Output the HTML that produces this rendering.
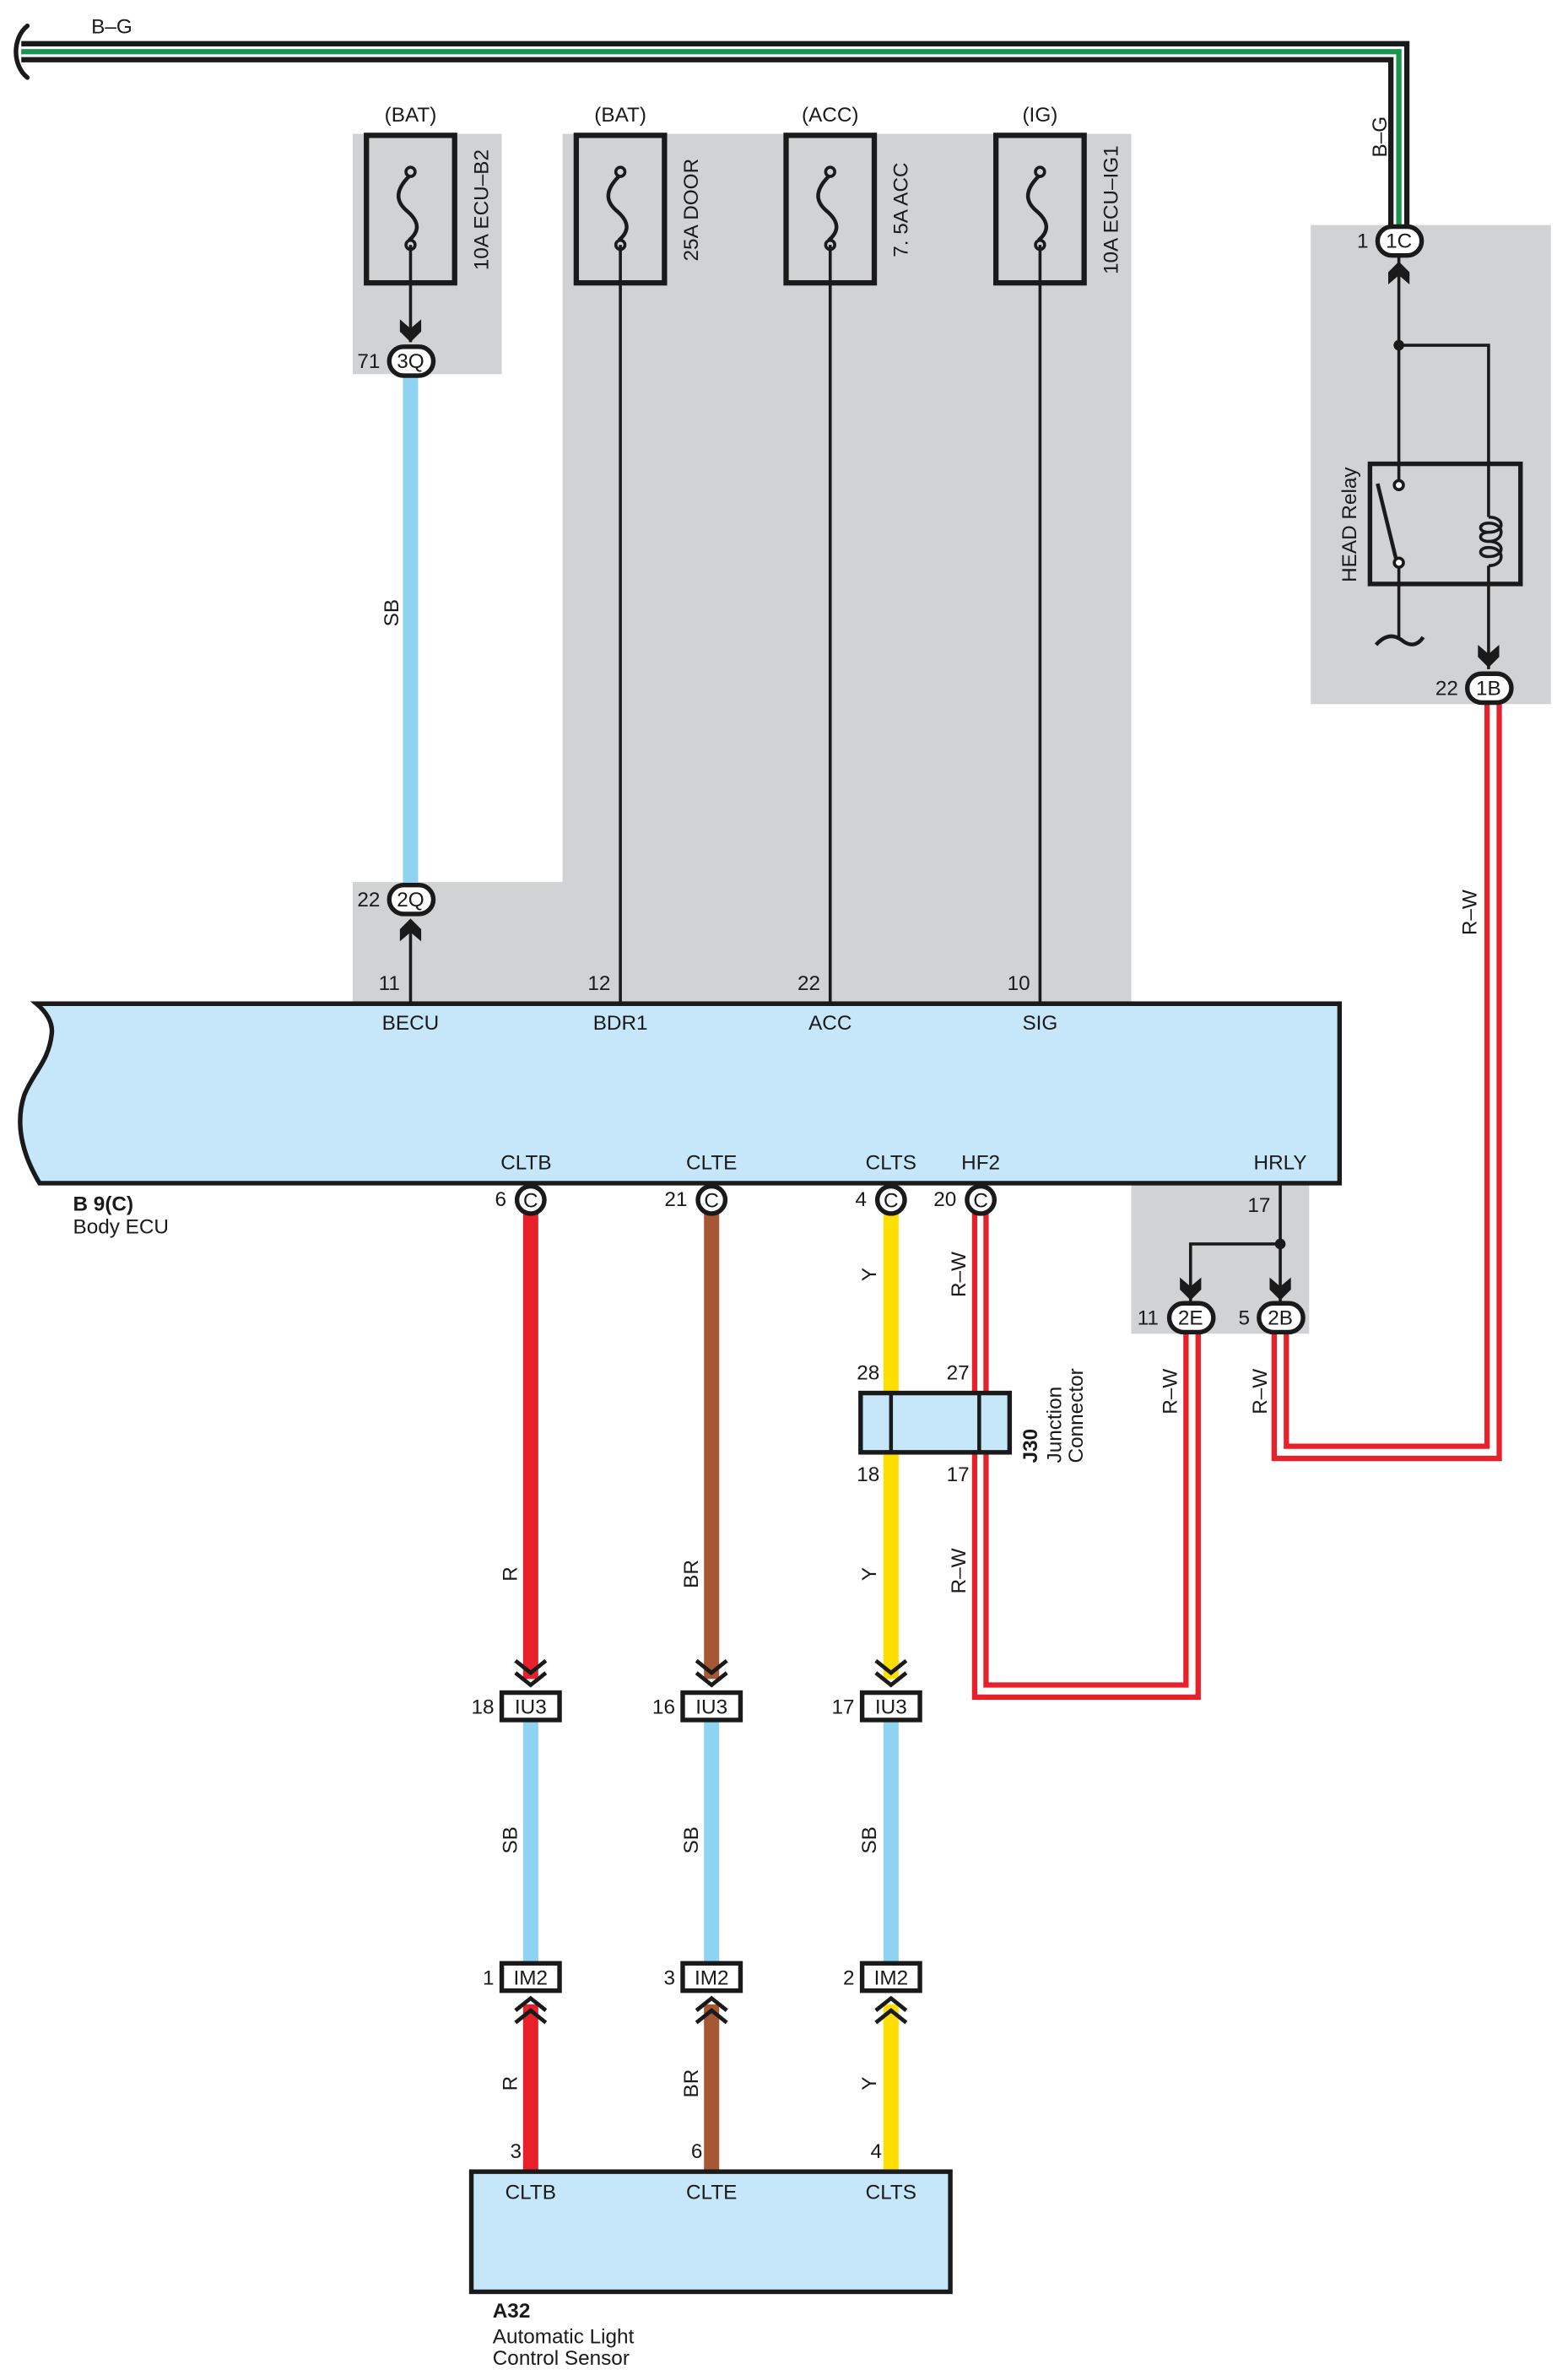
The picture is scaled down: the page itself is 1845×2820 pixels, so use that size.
<!DOCTYPE html>
<html><head><meta charset="utf-8"><style>
html,body{margin:0;padding:0;background:#fff;}
svg{display:block;}
text{font-family:"Liberation Sans",sans-serif;font-size:13.5px;fill:#1a1a1a;}
</style></head><body>
<svg width="1845" height="2820" viewBox="0 0 1024 1565" preserveAspectRatio="none" xmlns="http://www.w3.org/2000/svg">
<defs>
<path id="ard" d="M-7,-10 L0,-4 L7,-10 L7,-2 L0,5 L-7,-2 Z" fill="#1a1a1a"/>
<path id="aru" d="M-7,10 L0,4 L7,10 L7,2 L0,-5 L-7,2 Z" fill="#1a1a1a"/>
<g id="dchd" fill="none" stroke="#1a1a1a" stroke-width="2.6"><polyline points="-10,-12 0,-4 10,-12"/><polyline points="-10,-4 0,4 10,-4"/></g>
<g id="dchu" fill="none" stroke="#1a1a1a" stroke-width="2.6"><polyline points="-10,12 0,4 10,12"/><polyline points="-10,4 0,-4 10,4"/></g>
<g id="fuse" fill="none" stroke="#1a1a1a"><rect x="-29" y="0" width="58" height="97" stroke-width="3.5" fill="none"/><circle cx="0" cy="24" r="3" stroke-width="2"/><circle cx="0" cy="72" r="3" stroke-width="2"/><path d="M-1,27 C-12,38 -8,45 -2,50 C6,57 6,63 -1,69" stroke-width="2.5"/></g>
</defs>

<rect x="232" y="88" width="98" height="158" fill="#d1d2d4"/>
<polygon points="370,88 744,88 744,660 232,660 232,580 370,580" fill="#d1d2d4"/>
<rect x="862" y="148" width="158" height="315" fill="#d1d2d4"/>
<rect x="744" y="778" width="117" height="99" fill="#d1d2d4"/>

<path d="M14,34 L920,34 L920,150" fill="none" stroke="#1a1a1a" stroke-width="14"/>
<path d="M14,34 L920,34 L920,150" fill="none" stroke="#fff" stroke-width="7"/>
<path d="M14,34 L920,34 L920,150" fill="none" stroke="#1a9550" stroke-width="3.5"/>
<path d="M18,17 C8,25 8,43 18,51" fill="none" stroke="#1a1a1a" stroke-width="3" stroke-linecap="round"/>
<text x="60" y="22">B–G</text>
<text transform="translate(912,90) rotate(-90)" text-anchor="middle">B–G</text>

<use href="#fuse" x="270" y="89"/><use href="#fuse" x="408" y="89"/><use href="#fuse" x="546" y="89"/><use href="#fuse" x="684" y="89"/>
<text x="270" y="80" text-anchor="middle">(BAT)</text>
<text x="408" y="80" text-anchor="middle">(BAT)</text>
<text x="546" y="80" text-anchor="middle">(ACC)</text>
<text x="684" y="80" text-anchor="middle">(IG)</text>
<text transform="translate(321,138) rotate(-90)" text-anchor="middle">10A ECU–B2</text>
<text transform="translate(459,138) rotate(-90)" text-anchor="middle">25A DOOR</text>
<text transform="translate(597,138) rotate(-90)" text-anchor="middle">7. 5A ACC</text>
<text transform="translate(735,138) rotate(-90)" text-anchor="middle">10A ECU–IG1</text>
<g stroke="#1a1a1a" stroke-width="2">
<line x1="270" y1="161" x2="270" y2="225"/>
<line x1="408" y1="161" x2="408" y2="660"/>
<line x1="546" y1="161" x2="546" y2="660"/>
<line x1="684" y1="161" x2="684" y2="660"/>
<line x1="270" y1="605" x2="270" y2="660"/>
</g>
<line x1="270" y1="246" x2="270" y2="582" stroke="#8fd3f3" stroke-width="10"/>
<text transform="translate(262,403) rotate(-90)" text-anchor="middle">SB</text>
<use href="#ard" x="270" y="220"/>
<use href="#aru" x="270" y="609"/>
<rect x="256" y="228" width="29" height="19" rx="9.5" fill="#fff" stroke="#1a1a1a" stroke-width="3"/>
<text x="270" y="242" text-anchor="middle">3Q</text><text x="250" y="242" text-anchor="end">71</text>
<rect x="256" y="582" width="29" height="19" rx="9.5" fill="#fff" stroke="#1a1a1a" stroke-width="3"/>
<text x="270" y="596" text-anchor="middle">2Q</text><text x="250" y="596" text-anchor="end">22</text>
<text x="256" y="651" text-anchor="middle">11</text>
<text x="394" y="651" text-anchor="middle">12</text>
<text x="532" y="651" text-anchor="middle">22</text>
<text x="670" y="651" text-anchor="middle">10</text>

<path d="M24,660 L881,660 L881,778 L26,778 C14,758 10,738 16,720 C22,705 32,698 34,680 C35,672 30,665 24,660 Z" fill="#c5e7f9" stroke="#1a1a1a" stroke-width="3"/>
<text x="270" y="677" text-anchor="middle">BECU</text>
<text x="408" y="677" text-anchor="middle">BDR1</text>
<text x="546" y="677" text-anchor="middle">ACC</text>
<text x="684" y="677" text-anchor="middle">SIG</text>
<text x="346" y="769" text-anchor="middle">CLTB</text>
<text x="468" y="769" text-anchor="middle">CLTE</text>
<text x="586" y="769" text-anchor="middle">CLTS</text>
<text x="645" y="769" text-anchor="middle">HF2</text>
<text x="842" y="769" text-anchor="middle">HRLY</text>
<text x="48" y="796" style="font-weight:bold">B 9(C)</text>
<text x="48" y="811">Body ECU</text>

<line x1="349" y1="798" x2="349" y2="1104" stroke="#e8202a" stroke-width="10"/>
<line x1="468" y1="798" x2="468" y2="1104" stroke="#a65733" stroke-width="10"/>
<line x1="586" y1="798" x2="586" y2="1104" stroke="#ffdf00" stroke-width="10"/>
<path d="M641,798 L641,1116 L788,1116 L788,875" fill="none" stroke="#e8202a" stroke-width="3.5"/>
<path d="M648.5,798 L648.5,1108 L780,1108 L780,875" fill="none" stroke="#e8202a" stroke-width="3.5"/>
<path d="M838,875 L838,959 L986,959 L986,462" fill="none" stroke="#e8202a" stroke-width="3.5"/>
<path d="M846,875 L846,951 L978,951 L978,462" fill="none" stroke="#e8202a" stroke-width="3.5"/>

<g fill="#fff" stroke="#1a1a1a" stroke-width="3">
<circle cx="349" cy="789" r="9"/><circle cx="468" cy="789" r="9"/><circle cx="586" cy="789" r="9"/><circle cx="645" cy="789" r="9"/>
</g>
<g text-anchor="middle"><text x="349" y="794">C</text><text x="468" y="794">C</text><text x="586" y="794">C</text><text x="645" y="794">C</text></g>
<text x="333" y="793" text-anchor="end">6</text>
<text x="452" y="793" text-anchor="end">21</text>
<text x="570" y="793" text-anchor="end">4</text>
<text x="629" y="793" text-anchor="end">20</text>

<g stroke="#1a1a1a" stroke-width="2" fill="none"><polyline points="842,778 842,856"/><polyline points="842,818 783,818 783,856"/></g>
<circle cx="842" cy="818" r="3.5" fill="#1a1a1a"/>
<use href="#ard" x="783" y="850"/><use href="#ard" x="842" y="850"/>
<text x="828" y="797" text-anchor="middle">17</text>
<rect x="769" y="857" width="29" height="19" rx="9.5" fill="#fff" stroke="#1a1a1a" stroke-width="3"/>
<rect x="828" y="857" width="29" height="19" rx="9.5" fill="#fff" stroke="#1a1a1a" stroke-width="3"/>
<text x="783" y="871" text-anchor="middle">2E</text><text x="842" y="871" text-anchor="middle">2B</text>
<text x="762" y="871" text-anchor="end">11</text><text x="822" y="871" text-anchor="end">5</text>

<g stroke="#1a1a1a" stroke-width="2" fill="none">
<line x1="920" y1="168" x2="920" y2="316"/>
<polyline points="920,227 979,227 979,340"/>
<rect x="901" y="305" width="99" height="79" stroke-width="3"/>
<circle cx="920" cy="319" r="3" fill="#fff"/><circle cx="920" cy="370" r="3" fill="#fff"/>
<line x1="906" y1="318" x2="918" y2="367" stroke-width="2.5"/>
<line x1="920" y1="373" x2="920" y2="420"/>
<path d="M905,424 C912,416 918,418 922,421 C927,425 932,425 936,419" stroke-width="2.5"/>
<path d="M979,340 C990,340 990,350 979,350 C972,350 972,344 979,344 C990,344 990,356 979,356 C972,356 972,350 979,350 M979,356 C990,356 990,366 979,366 C972,366 972,360 979,360 C990,360 990,372 979,372" stroke-width="2"/>
<line x1="979" y1="372" x2="979" y2="440"/>
</g>
<circle cx="920" cy="227" r="3.5" fill="#1a1a1a"/>
<use href="#aru" x="920" y="177"/><use href="#ard" x="979" y="434"/>
<rect x="906" y="149" width="29" height="19" rx="9.5" fill="#fff" stroke="#1a1a1a" stroke-width="3"/>
<text x="920" y="163" text-anchor="middle">1C</text><text x="900" y="163" text-anchor="end">1</text>
<rect x="965" y="443" width="29" height="19" rx="9.5" fill="#fff" stroke="#1a1a1a" stroke-width="3"/>
<text x="979" y="457" text-anchor="middle">1B</text><text x="959" y="457" text-anchor="end">22</text>
<text transform="translate(892,345) rotate(-90)" text-anchor="middle">HEAD Relay</text>

<g text-anchor="middle">
<text transform="translate(971,600) rotate(-90)">R–W</text>
<text transform="translate(635,838) rotate(-90)">R–W</text>
<text transform="translate(635,1033) rotate(-90)">R–W</text>
<text transform="translate(774,915) rotate(-90)">R–W</text>
<text transform="translate(833,915) rotate(-90)">R–W</text>
<text transform="translate(576,838) rotate(-90)">Y</text>
<text transform="translate(340,1035) rotate(-90)">R</text>
<text transform="translate(459,1035) rotate(-90)">BR</text>
<text transform="translate(576,1035) rotate(-90)">Y</text>
<text transform="translate(340,1210) rotate(-90)">SB</text>
<text transform="translate(459,1210) rotate(-90)">SB</text>
<text transform="translate(576,1210) rotate(-90)">SB</text>
<text transform="translate(340,1370) rotate(-90)">R</text>
<text transform="translate(459,1370) rotate(-90)">BR</text>
<text transform="translate(576,1370) rotate(-90)">Y</text>
</g>

<rect x="566" y="916" width="98" height="39" fill="#c5e7f9" stroke="#1a1a1a" stroke-width="3"/>
<line x1="586" y1="916" x2="586" y2="955" stroke="#1a1a1a" stroke-width="2.5"/>
<line x1="644" y1="916" x2="644" y2="955" stroke="#1a1a1a" stroke-width="2.5"/>
<text x="571" y="907" text-anchor="middle">28</text><text x="630" y="907" text-anchor="middle">27</text>
<text x="571" y="974" text-anchor="middle">18</text><text x="630" y="974" text-anchor="middle">17</text>
<text transform="translate(682,962) rotate(-90)" style="font-weight:bold">J30</text>
<text transform="translate(698,962) rotate(-90)">Junction</text>
<text transform="translate(712,962) rotate(-90)">Connector</text>

<line x1="349" y1="1131" x2="349" y2="1291" stroke="#8fd3f3" stroke-width="10"/>
<line x1="468" y1="1131" x2="468" y2="1291" stroke="#8fd3f3" stroke-width="10"/>
<line x1="586" y1="1131" x2="586" y2="1291" stroke="#8fd3f3" stroke-width="10"/>
<line x1="349" y1="1318" x2="349" y2="1428" stroke="#e8202a" stroke-width="10"/>
<line x1="468" y1="1318" x2="468" y2="1428" stroke="#a65733" stroke-width="10"/>
<line x1="586" y1="1318" x2="586" y2="1428" stroke="#ffdf00" stroke-width="10"/>
<use href="#dchd" x="349" y="1104"/><use href="#dchd" x="468" y="1104"/><use href="#dchd" x="586" y="1104"/>
<use href="#dchu" x="349" y="1318"/><use href="#dchu" x="468" y="1318"/><use href="#dchu" x="586" y="1318"/>
<g fill="#fff" stroke="#1a1a1a" stroke-width="3">
<rect x="330" y="1113" width="38" height="18"/><rect x="449" y="1113" width="38" height="18"/><rect x="567" y="1113" width="38" height="18"/>
<rect x="330" y="1291" width="38" height="18"/><rect x="449" y="1291" width="38" height="18"/><rect x="567" y="1291" width="38" height="18"/>
</g>
<g text-anchor="middle">
<text x="349" y="1127">IU3</text><text x="468" y="1127">IU3</text><text x="586" y="1127">IU3</text>
<text x="349" y="1305">IM2</text><text x="468" y="1305">IM2</text><text x="586" y="1305">IM2</text>
</g>
<g text-anchor="end">
<text x="325" y="1127">18</text><text x="444" y="1127">16</text><text x="562" y="1127">17</text>
<text x="325" y="1305">1</text><text x="444" y="1305">3</text><text x="562" y="1305">2</text>
<text x="343" y="1419">3</text><text x="462" y="1419">6</text><text x="580" y="1419">4</text>
</g>

<rect x="310" y="1428" width="315" height="79" fill="#c5e7f9" stroke="#1a1a1a" stroke-width="3"/>
<g text-anchor="middle"><text x="349" y="1446">CLTB</text><text x="468" y="1446">CLTE</text><text x="586" y="1446">CLTS</text></g>
<text x="324" y="1524" style="font-weight:bold">A32</text>
<text x="324" y="1541">Automatic Light</text>
<text x="324" y="1555">Control Sensor</text>
</svg>
</body></html>
